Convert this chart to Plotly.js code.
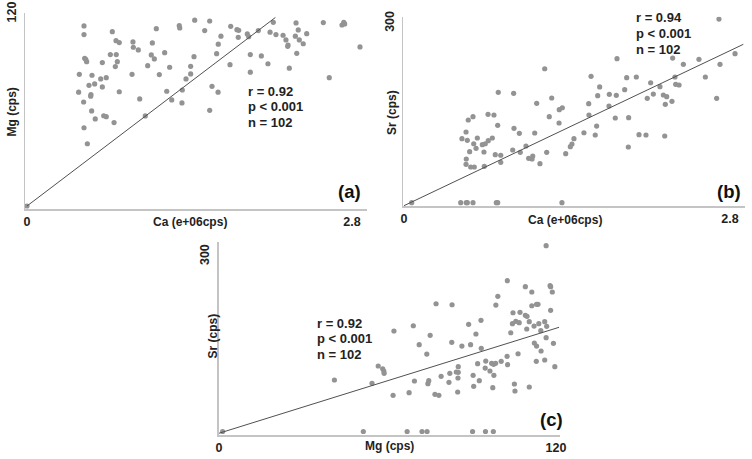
<!DOCTYPE html>
<html>
<head>
<meta charset="utf-8">
<script src="https://cdn.plot.ly/plotly-3.0.1.min.js"></script>
<style>html,body{margin:0;padding:0;background:#fff;}#chart{width:752px;height:459px;}</style>
</head>
<body>
<div id="chart"></div>
<script>
// ---------- Panel (a): Ca vs Mg ----------
const caA = [0.491,0.491,0.735,0.767,0.795,0.913,0.916,0.959,1.080,1.114,1.312,1.316,1.445,1.439,1.186,1.071,1.097,1.040,1.229,1.140,1.410,1.410,1.370,1.338,1.204,1.247,1.335,0.971,1.019,0.905,0.795,0.718,0.769,0.778,0.761,0.649,0.497,0.506,0.514,0.451,0.560,0.635,0.683,0.649,0.583,0.534,0.445,0.551,0.549,0.488,0.557,0.588,0.661,0.683,0.750,0.491,0.520,0.0,
  1.574,1.531,1.755,1.809,1.824,1.671,1.820,1.898,1.910,1.993,1.648,2.122,2.094,2.145,2.206,2.231,2.249,2.246,2.318,2.337,2.312,2.346,2.380,2.410,2.553,2.714,2.729,2.737,2.869,2.324,1.634,1.924,2.019,2.076,1.749,2.260,1.924,2.604,1.594,1.646,1.574];
const mgA = [112.5,107.1,108.9,103.3,102.1,102.5,99.2,97.5,101.9,110.8,112.7,111.3,116.1,93.3,95.8,94.4,91.9,87.7,86.7,82.1,87.3,82.5,79.4,72.5,71.7,66.3,64.4,66.9,56.3,82.3,71.4,94.6,94.6,90.2,87.1,89.6,92.3,91.7,90.2,82.3,81.7,79.4,80.2,74.4,76.3,75.4,71.1,69.6,68.6,65.0,59.4,54.4,56.4,55.8,52.1,48.9,38.9,0.0,
  115.6,109.6,112.3,110.2,109.8,106.1,105.4,107.5,105.8,109.6,101.1,114.8,108.6,107.1,106.7,103.8,100.6,99.8,114.4,110.0,106.1,103.8,101.4,107.7,114.6,113.1,114.8,113.8,99.4,95.4,95.2,94.6,93.8,88.9,88.3,86.1,83.6,80.2,74.8,71.1,59.8];
const fitAx = [0, 2.14];
const fitAy = [0, 117.8];
const statsA = ['r = 0.92', 'p < 0.001', 'n = 102'];

// ---------- Panel (b): Ca vs Sr ----------
const caB = [0.066,0.487,0.535,0.544,0.593,0.793,0.805,1.357,
  1.209,0.810,0.942,1.140,1.269,1.334,1.360,1.248,1.332,0.722,0.773,0.593,0.552,0.533,0.498,0.544,0.630,0.599,0.619,0.564,0.673,0.698,0.724,0.759,0.805,0.687,0.784,0.831,0.831,0.535,0.533,0.573,0.604,0.690,0.945,0.991,1.123,0.934,0.999,1.048,1.071,1.100,1.106,1.168,1.226,1.389,1.429,1.443,1.460,
  2.706,1.830,2.308,2.400,2.534,2.715,2.844,1.607,1.913,1.996,2.328,2.589,1.681,2.119,2.199,2.334,2.363,1.664,1.764,1.824,1.896,2.142,2.090,2.228,2.257,2.302,2.245,2.686,1.587,1.761,1.589,1.815,1.930,1.655,1.546,1.643,2.019,2.079,2.240,1.927];
const srB = [0,0,0,0,0,0,0,0,
  224.0,184.6,182.9,166.2,175.1,155.5,158.8,143.8,133.3,147.8,146.6,143.8,138.3,118.2,107.0,104.3,108.2,98.6,91.0,85.3,97.0,98.6,103.7,108.2,129.4,84.8,80.3,79.3,67.5,73.1,64.2,59.7,59.7,60.9,124.4,116.0,116.5,88.1,84.3,94.8,74.2,73.1,78.1,65.2,84.3,81.9,93.6,98.1,107.0,
  307.1,240.8,241.9,231.4,239.8,231.4,249.1,211.3,209.0,210.2,210.2,210.2,193.5,200.6,194.0,198.0,196.8,178.9,181.2,179.6,188.9,181.7,174.6,180.1,177.2,169.5,164.5,174.6,165.5,161.7,146.6,141.6,142.1,128.2,117.0,113.2,113.7,113.2,111.5,93.1];
const fitBx = [0, 2.915];
const fitBy = [-5, 264.8];
const statsB = ['r = 0.94', 'p < 0.001', 'n = 102'];

// ---------- Panel (c): Mg vs Sr ----------
const mgC = [1.3,41.1,54.5,56.7,58.3,58.7,58.8,51.4,67.0,72.3,74.1,90.3,94.9,97.7,
  116.5,102.7,109.1,111.4,117.9,118.1,118.7,99.3,98.6,111.4,113.1,113.6,118.1,77.3,83.0,104.7,107.2,109.1,109.7,93.3,88.9,104.5,105.7,106.9,110.5,112.2,113.9,116.0,116.7,109.6,114.6,103.9,91.5,62.3,69.2,75.2,116.5,71.3,82.9,86.5,89.6,93.4,112.3,113.1,119.1,114.7,74.0,106.5,102.6,113.0,116.0,119.6,85.2,92.1,95.0,97.1,97.8,98.5,100.5,102.8,94.8,96.5,97.9,84.5,85.2,82.2,85.1,79.1,81.9,90.5,92.7,74.7,74.4,69.6,90.7,97.5,105.2,105.4,110.5,85.0,76.9,78.3,67.7,62.0];
const srC = [0,88.3,82.6,112.3,107.6,103.7,99.8,0,0,0,0,0,0,0,
  318.5,258.5,248.2,239.1,249.9,248.2,239.1,231.7,216.8,215.6,218.0,218.0,207.7,219.0,217.3,203.6,204.3,199.2,197.5,190.6,183.7,184.8,188.9,186.5,188.2,180.8,184.8,188.2,180.3,175.7,172.8,169.3,167.1,172.3,181.3,164.9,160.8,148.8,152.9,146.5,148.8,142.6,151.7,146.5,151.2,138.0,132.8,133.3,128.9,120.3,122.6,111.1,111.1,116.2,120.8,116.9,115.2,116.9,120.3,114.5,108.8,103.7,96.3,102.0,101.5,99.8,91.7,94.6,84.3,96.3,87.1,87.1,81.9,86.6,77.5,75.1,81.4,69.4,76.3,67.7,63.8,62.0,66.5,62.0];
const fitCx = [0, 121.1];
const fitCy = [-3, 178.6];
const statsC = ['r = 0.92', 'p < 0.001', 'n = 102'];

// ---------- Tick labels & titles ----------
const ticksCaVals = [0, 2.8], ticksCaText = ['0', '2.8'];
const ticksMgXVals = [0, 120], ticksMgXText = ['0', '120'];
const ticksMgYVals = [120], ticksMgYText = ['120'];
const ticksSrVals = [300], ticksSrText = ['300'];
const panelLabels = ['(a)', '(b)', '(c)'];

// ---------- Styling ----------
const W = 752, H = 459;
const FONT = 'Liberation Sans, Arial, Helvetica, sans-serif';
const DOT = '#939393', LINE = '#505050', AXIS = '#c4c4c4';
const px = (x) => x / W, py = (y) => 1 - y / H;

function pts(x, y, xa, ya) {
  return {x: x, y: y, xaxis: xa, yaxis: ya, type: 'scatter', mode: 'markers',
    marker: {size: 5.2, color: DOT}, hoverinfo: 'skip'};
}
function fit(x, y, xa, ya) {
  return {x: x, y: y, xaxis: xa, yaxis: ya, type: 'scatter', mode: 'lines',
    line: {color: LINE, width: 1}, hoverinfo: 'skip'};
}

const data = [
  pts(caA, mgA, 'x', 'y'), fit(fitAx, fitAy, 'x', 'y'),
  pts(caB, srB, 'x2', 'y2'), fit(fitBx, fitBy, 'x2', 'y2'),
  pts(mgC, srC, 'x3', 'y3'), fit(fitCx, fitCy, 'x3', 'y3')
];

const tickFont = {family: FONT, size: 12.5, color: '#222', weight: 'bold'};
function xax(domain, range, vals, text, anchor) {
  return {domain: domain, range: range, anchor: anchor, showgrid: false, zeroline: false,
    showline: true, linecolor: AXIS, linewidth: 1.5, tickmode: 'array', tickvals: vals, ticktext: text,
    ticks: '', ticklabelstandoff: -1.5, tickfont: tickFont, fixedrange: true};
}
function yax(domain, range, vals, text, anchor) {
  return {domain: domain, range: range, anchor: anchor, showgrid: false, zeroline: false,
    showline: true, linecolor: AXIS, linewidth: 1.5, tickmode: 'array', tickvals: vals, ticktext: text,
    tickangle: -90, ticks: 'outside', ticklen: 3, tickcolor: 'rgba(0,0,0,0)', tickfont: tickFont, fixedrange: true};
}

const titleFont = {family: FONT, size: 12, color: '#222', weight: 'bold'};
const statFont = {family: FONT, size: 13, color: '#222', weight: 'bold'};
const labFont = {family: FONT, size: 18.5, color: '#111', weight: 'bold'};
function ann(text, x, y, font, xanchor, angle) {
  return {text: text, x: px(x), y: py(y), xref: 'paper', yref: 'paper', showarrow: false,
    xanchor: xanchor || 'center', yanchor: 'middle', font: font, textangle: angle || 0};
}

const annotations = [
  ann('Ca (e+06cps)', 189.5, 222, titleFont), ann('Mg (cps)', 11.5, 112, titleFont, 'center', -90),
  ann('Ca (e+06cps)', 565, 220, titleFont), ann('Sr (cps)', 392, 113, titleFont, 'center', -90),
  ann('Mg (cps)', 389, 446, titleFont), ann('Sr (cps)', 212.5, 336, titleFont, 'center', -90),
  ann(panelLabels[0], 349, 191.5, labFont), ann(panelLabels[1], 728.5, 191.5, labFont), ann(panelLabels[2], 551, 419.5, labFont)
];
[[statsA, 246, 91], [statsB, 634, 18], [statsC, 315, 323]].forEach(([s, x, y]) => {
  s.forEach((t, i) => annotations.push(ann(t, x, y + i * 15.6, statFont, 'left')));
});

const layout = {
  width: W, height: H, margin: {l: 0, r: 0, t: 0, b: 0},
  paper_bgcolor: '#fff', plot_bgcolor: 'rgba(0,0,0,0)', showlegend: false,
  font: {family: FONT},
  xaxis:  xax([px(25), px(367)], [-0.0172, 2.9293], ticksCaVals, ticksCaText, 'y'),
  yaxis:  yax([py(209), py(13)], [-1.875, 120.6], ticksMgYVals, ticksMgYText, 'x'),
  xaxis2: xax([px(403.3), px(745)], [-0.006, 2.9296], ticksCaVals, ticksCaText, 'y2'),
  yaxis2: yax([py(206.3), py(16.7)], [-6.02, 311.0], ticksSrVals, ticksSrText, 'x2'),
  xaxis3: xax([px(218.5), px(560)], [-0.178, 121.44], ticksMgXVals, ticksMgXText, 'y3'),
  yaxis3: yax([py(435), py(241.5)], [-6.0, 325.7], ticksSrVals, ticksSrText, 'x3'),
  annotations: annotations
};

Plotly.newPlot('chart', data, layout, {staticPlot: true, displayModeBar: false});
</script>
</body>
</html>
